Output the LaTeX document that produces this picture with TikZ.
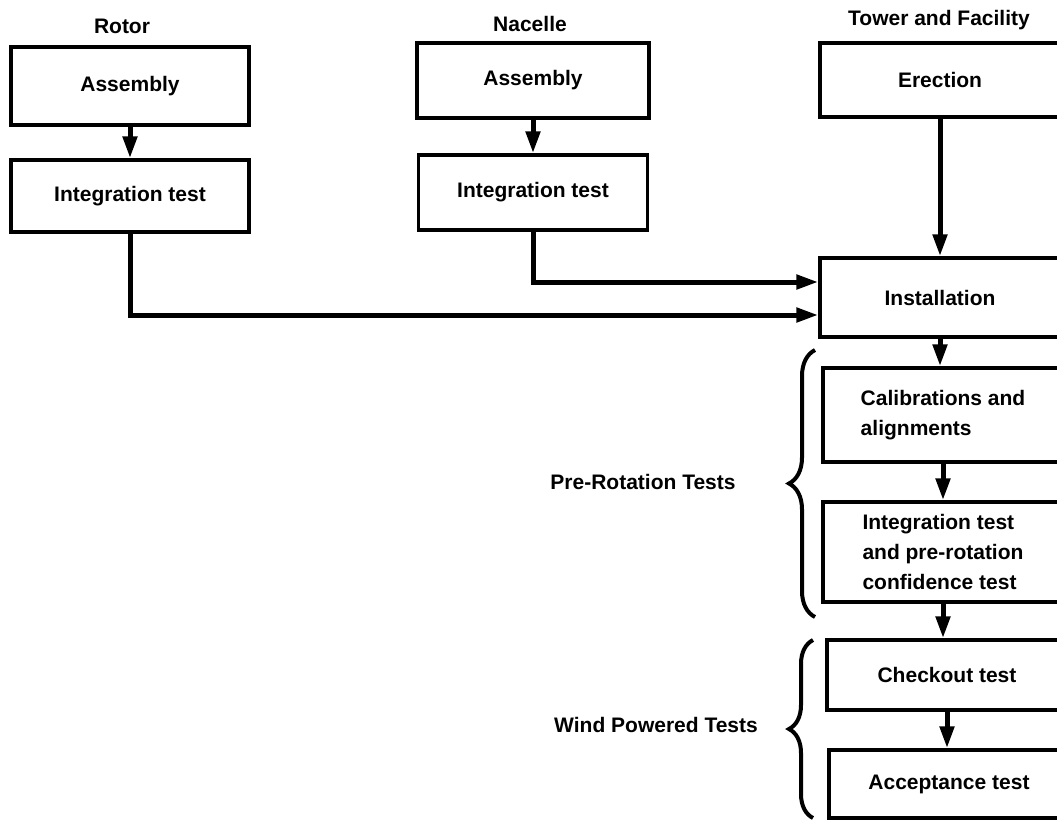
\documentclass[tikz,border=0pt]{standalone}
\usepackage{fontspec}
\setmainfont{Liberation Sans}
\usetikzlibrary{arrows.meta,calc,decorations.pathreplacing}

\begin{document}
\begin{tikzpicture}[x=1pt,y=-1pt,
    lbl/.style={font=\fontsize{21}{30}\selectfont\bfseries},
    box/.style={lbl,draw,line width=3.5pt,rectangle,inner sep=0pt,minimum width=#1},
    box/.default=238pt,
    flow/.style={line width=5pt,-{Triangle[width=14pt,length=22pt]}},
    grp/.style={line width=4pt,decorate,decoration={brace,amplitude=#1}}]
  \clip (0,0) rectangle (1057,820);
  \draw
    (122,26) node[lbl] (rotor){Rotor}
    (530,24) node[lbl] (nacelle){Nacelle}
    (939,20) node[lbl] (tower){Tower and Facility}
    (130,86) node[box,minimum height=78pt] (ra){Assembly}
    (130,196) node[box,minimum height=72pt] (ri){Integration test}
    (533,80.5) node[box=232pt,minimum height=75pt] (na){Assembly}
    (533,192.5) node[box=229pt,minimum height=75pt] (ni){Integration test}
    (940,80) node[box=240pt,minimum height=74pt] (er){Erection}
    (940,297.5) node[box=240pt,minimum height=79pt] (inst){Installation}
    (943,415) node[box=240pt,minimum height=94pt,align=left] (cal){Calibrations and\\alignments}
    (943,552) node[box=240pt,minimum height=100pt,align=left] (prt){Integration test\\and pre-rotation\\confidence test}
    (947,675) node[box=240pt,minimum height=70pt] (chk){Checkout test}
    (949,784) node[box=240pt,minimum height=68pt] (acc){Acceptance test}
    (643,482) node[lbl] (pre){Pre-Rotation Tests}
    (656,725) node[lbl] (wind){Wind Powered Tests};
  \begin{scope}[flow]
    \draw (ra) to (ri);
    \draw (na) to (ni);
    \draw (er.south) to (er.south |- inst.north);
    \draw (ni.south) |- ($(inst.west)+(0,-15.5)$);
    \draw (ri.south) |- ($(inst.west)+(0,17.5)$);
    \draw (inst.south) to (inst.south |- cal.north);
    \draw (cal.south) to (cal.south |- prt.north);
    \draw (prt.south) to (prt.south |- chk.north);
    \draw (chk.south) to (chk.south |- acc.north);
  \end{scope}
  \draw[grp=26pt] (815,617) -- (815,350);
  \draw[grp=24pt] (813,818) -- (813,640);
\end{tikzpicture}
\end{document}
